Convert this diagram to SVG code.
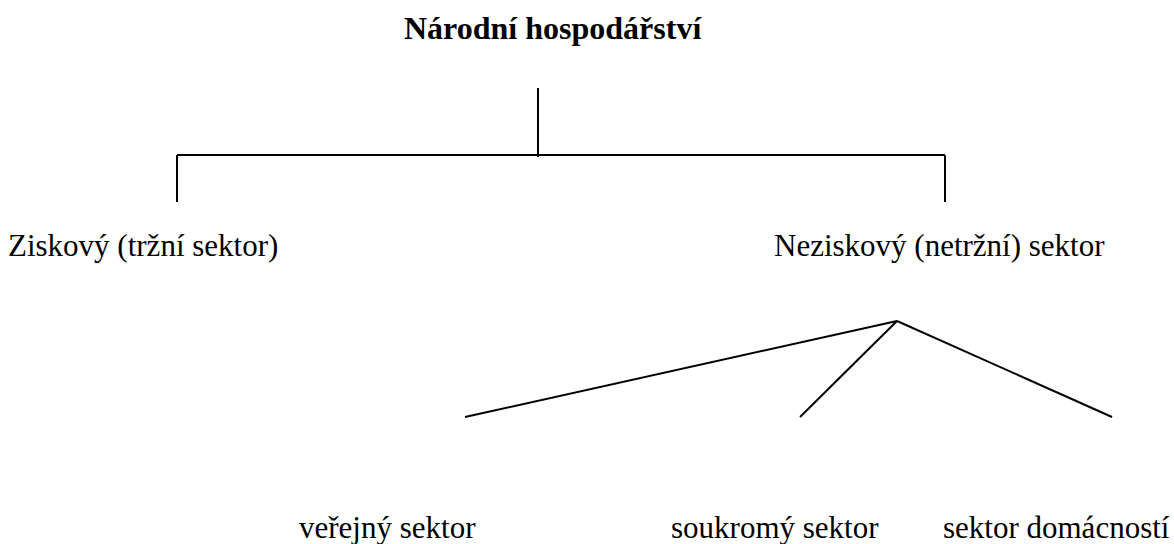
<svg xmlns="http://www.w3.org/2000/svg" width="1174" height="544" viewBox="0 0 1174 544">
<style>
.t{font-family:"Liberation Serif","Times New Roman",serif;font-size:31px;fill:#000}
.b{font-weight:bold;font-size:32px}
.c line{stroke:#000;stroke-width:2;fill:none}
</style>
<rect width="1174" height="544" fill="#fff"/>
<g id="n-root"><text class="t b" x="404" y="39">Národní hospodářství</text></g>
<g id="n-zisk"><text class="t" x="8" y="256">Ziskový (tržní sektor)</text></g>
<g id="n-nezisk"><text class="t" x="774" y="256">Neziskový (netržní) sektor</text></g>
<g id="n-verejny"><text class="t" x="299" y="538">veřejný sektor</text></g>
<g id="n-soukromy"><text class="t" x="671" y="538">soukromý sektor</text></g>
<g id="n-domacnosti"><text class="t" x="943" y="538">sektor domácností</text></g>
<g id="connectors" class="c">
<line x1="538" y1="88" x2="538" y2="157"/>
<line x1="177" y1="155" x2="945" y2="155"/>
<line x1="177" y1="155" x2="177" y2="202"/>
<line x1="945" y1="155" x2="945" y2="202"/>
<line x1="897" y1="321" x2="465" y2="417"/>
<line x1="897" y1="321" x2="800" y2="417"/>
<line x1="897" y1="321" x2="1112" y2="417"/>
</g>
</svg>
